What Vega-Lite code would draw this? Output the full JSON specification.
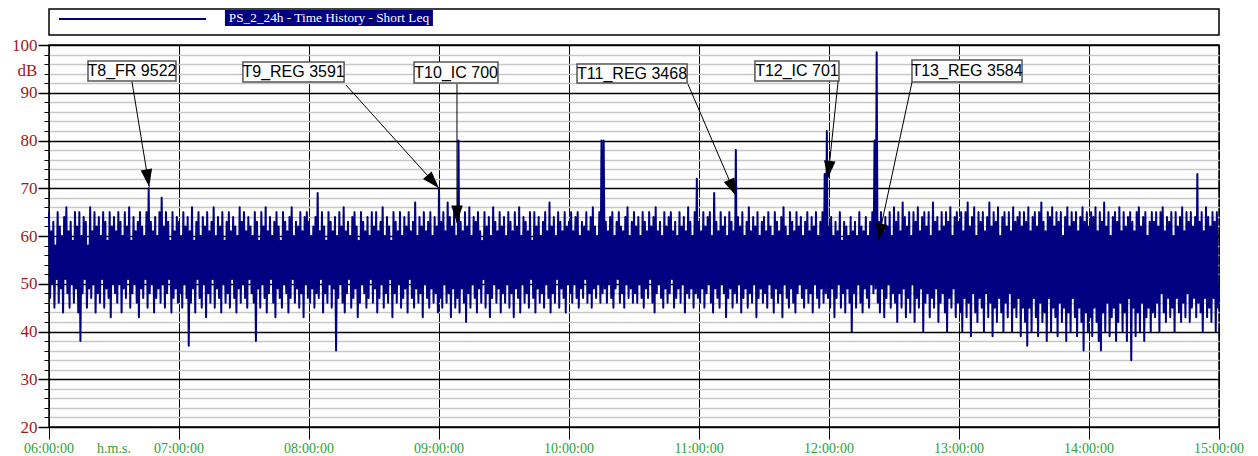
{
  "$schema": "https://vega.github.io/schema/vega-lite/v6.json",
  "background": "white",
  "padding": {"left": 10, "top": 8, "right": 10, "bottom": 0},
  "bounds": "flush",
  "spacing": 10,
  "config": {"view": {"stroke": "black", "strokeWidth": 1.5}, "axis": {"domain": false}},
  "datasets": {
    "leg": [{"label": "PS_2_24h - Time History - Short Leq", "x1": 9.2, "x2": 145, "ly": 16, "rx1": 162.4, "rx2": 354.4, "ry1": 9, "ry2": 25, "tx": 258.4, "ty": 17}],
    "xl": [
      {"t": 0, "lab": "06:00:00"}, {"t": 60, "lab": "h.m.s."}, {"t": 120, "lab": "07:00:00"}, {"t": 240, "lab": "08:00:00"},
      {"t": 360, "lab": "09:00:00"}, {"t": 480, "lab": "10:00:00"}, {"t": 600, "lab": "11:00:00"}, {"t": 720, "lab": "12:00:00"},
      {"t": 840, "lab": "13:00:00"}, {"t": 960, "lab": "14:00:00"}, {"t": 1080, "lab": "15:00:00"}
    ],
    "ann": [
      {"label": "T8_FR 9522", "bx1": 36.0, "bx2": 117.2, "by1": 96.65, "by2": 92.46, "lx": 76.6, "ly": 94.55, "sx": 76.6, "sv": 92.3, "tx": 92.5, "tv": 70.3},
      {"label": "T9_REG 3591", "bx1": 179.0, "bx2": 272.4, "by1": 96.44, "by2": 92.25, "lx": 225.8, "ly": 94.35, "sx": 274.2, "sv": 91.6, "tx": 360.0, "tv": 70.0},
      {"label": "T10_IC 700", "bx1": 337.0, "bx2": 414.4, "by1": 96.44, "by2": 92.04, "lx": 375.8, "ly": 94.24, "sx": 376.6, "sv": 91.8, "tx": 376.6, "tv": 62.7},
      {"label": "T11_REG 3468", "bx1": 487.4, "bx2": 589.0, "by1": 96.02, "by2": 92.04, "lx": 538.2, "ly": 94.03, "sx": 589.8, "sv": 91.8, "tx": 634.2, "tv": 68.4},
      {"label": "T12_IC 701", "bx1": 651.6, "bx2": 729.2, "by1": 96.65, "by2": 92.46, "lx": 690.4, "ly": 94.55, "sx": 728.4, "sv": 92.4, "tx": 719.0, "tv": 72.1},
      {"label": "T13_REG 3584", "bx1": 796.6, "bx2": 898.2, "by1": 96.86, "by2": 92.25, "lx": 847.4, "ly": 94.55, "sx": 796.6, "sv": 92.2, "tx": 765.2, "tv": 59.0}
    ],
    "ts": [
{"t":0,"v":65},{"t":1,"v":47},{"t":2,"v":61},{"t":3,"v":50},{"t":4,"v":63},{"t":5,"v":45},{"t":6,"v":58},{"t":7,"v":51},{"t":8,"v":65},{"t":9,"v":46},{"t":10,"v":62},{"t":11,"v":49},{"t":12,"v":60},{"t":13,"v":44},{"t":14,"v":64},{"t":15,"v":51},{"t":16,"v":66},{"t":17,"v":48},{"t":18,"v":61},{"t":19,"v":45},
{"t":20,"v":63},{"t":21,"v":50},{"t":22,"v":59},{"t":23,"v":46},{"t":24,"v":65},{"t":25,"v":49},{"t":26,"v":62},{"t":27,"v":44},{"t":28,"v":65},{"t":29,"v":38},{"t":30,"v":60},{"t":31,"v":48},{"t":32,"v":64},{"t":33,"v":51},{"t":34,"v":63},{"t":35,"v":45},{"t":36,"v":58},{"t":37,"v":49},{"t":38,"v":66},{"t":39,"v":47},
{"t":40,"v":61},{"t":41,"v":50},{"t":42,"v":65},{"t":43,"v":44},{"t":44,"v":62},{"t":45,"v":48},{"t":46,"v":64},{"t":47,"v":46},{"t":48,"v":60},{"t":49,"v":51},{"t":50,"v":65},{"t":51,"v":45},{"t":52,"v":63},{"t":53,"v":49},{"t":54,"v":59},{"t":55,"v":47},{"t":56,"v":65},{"t":57,"v":43},{"t":58,"v":62},{"t":59,"v":50},
{"t":60,"v":64},{"t":61,"v":48},{"t":62,"v":61},{"t":63,"v":46},{"t":64,"v":65},{"t":65,"v":50},{"t":66,"v":63},{"t":67,"v":44},{"t":68,"v":60},{"t":69,"v":49},{"t":70,"v":65},{"t":71,"v":47},{"t":72,"v":62},{"t":73,"v":51},{"t":74,"v":66},{"t":75,"v":45},{"t":76,"v":59},{"t":77,"v":48},{"t":78,"v":64},{"t":79,"v":50},
{"t":80,"v":61},{"t":81,"v":46},{"t":82,"v":63},{"t":83,"v":43},{"t":84,"v":65},{"t":85,"v":49},{"t":86,"v":62},{"t":87,"v":47},{"t":88,"v":60},{"t":89,"v":51},{"t":90,"v":65},{"t":91,"v":45},{"t":92,"v":70},{"t":93,"v":48},{"t":94,"v":63},{"t":95,"v":50},{"t":96,"v":61},{"t":97,"v":44},{"t":98,"v":64},{"t":99,"v":47},
{"t":100,"v":60},{"t":101,"v":49},{"t":102,"v":65},{"t":103,"v":46},{"t":104,"v":68},{"t":105,"v":50},{"t":106,"v":62},{"t":107,"v":45},{"t":108,"v":65},{"t":109,"v":48},{"t":110,"v":63},{"t":111,"v":51},{"t":112,"v":59},{"t":113,"v":44},{"t":114,"v":65},{"t":115,"v":47},{"t":116,"v":61},{"t":117,"v":49},{"t":118,"v":64},{"t":119,"v":46},
{"t":120,"v":63},{"t":121,"v":48},{"t":122,"v":60},{"t":123,"v":45},{"t":124,"v":65},{"t":125,"v":50},{"t":126,"v":62},{"t":127,"v":47},{"t":128,"v":64},{"t":129,"v":37},{"t":130,"v":61},{"t":131,"v":46},{"t":132,"v":66},{"t":133,"v":49},{"t":134,"v":59},{"t":135,"v":44},{"t":136,"v":63},{"t":137,"v":51},{"t":138,"v":65},{"t":139,"v":47},
{"t":140,"v":60},{"t":141,"v":45},{"t":142,"v":64},{"t":143,"v":50},{"t":144,"v":62},{"t":145,"v":43},{"t":146,"v":65},{"t":147,"v":48},{"t":148,"v":61},{"t":149,"v":46},{"t":150,"v":63},{"t":151,"v":51},{"t":152,"v":66},{"t":153,"v":45},{"t":154,"v":60},{"t":155,"v":49},{"t":156,"v":64},{"t":157,"v":47},{"t":158,"v":62},{"t":159,"v":44},
{"t":160,"v":65},{"t":161,"v":50},{"t":162,"v":59},{"t":163,"v":46},{"t":164,"v":63},{"t":165,"v":48},{"t":166,"v":65},{"t":167,"v":45},{"t":168,"v":61},{"t":169,"v":51},{"t":170,"v":64},{"t":171,"v":47},{"t":172,"v":62},{"t":173,"v":44},{"t":174,"v":60},{"t":175,"v":49},{"t":176,"v":66},{"t":177,"v":46},{"t":178,"v":63},{"t":179,"v":50},
{"t":180,"v":65},{"t":181,"v":47},{"t":182,"v":61},{"t":183,"v":45},{"t":184,"v":64},{"t":185,"v":51},{"t":186,"v":62},{"t":187,"v":48},{"t":188,"v":60},{"t":189,"v":46},{"t":190,"v":65},{"t":191,"v":38},{"t":192,"v":63},{"t":193,"v":49},{"t":194,"v":59},{"t":195,"v":45},{"t":196,"v":65},{"t":197,"v":50},{"t":198,"v":62},{"t":199,"v":47},
{"t":200,"v":66},{"t":201,"v":44},{"t":202,"v":61},{"t":203,"v":48},{"t":204,"v":64},{"t":205,"v":51},{"t":206,"v":60},{"t":207,"v":46},{"t":208,"v":63},{"t":209,"v":43},{"t":210,"v":65},{"t":211,"v":49},{"t":212,"v":62},{"t":213,"v":47},{"t":214,"v":59},{"t":215,"v":45},{"t":216,"v":65},{"t":217,"v":50},{"t":218,"v":63},{"t":219,"v":48},
{"t":220,"v":61},{"t":221,"v":44},{"t":222,"v":64},{"t":223,"v":47},{"t":224,"v":66},{"t":225,"v":51},{"t":226,"v":60},{"t":227,"v":46},{"t":228,"v":63},{"t":229,"v":49},{"t":230,"v":62},{"t":231,"v":45},{"t":232,"v":65},{"t":233,"v":48},{"t":234,"v":61},{"t":235,"v":43},{"t":236,"v":64},{"t":237,"v":50},{"t":238,"v":65},{"t":239,"v":47},
{"t":240,"v":63},{"t":241,"v":46},{"t":242,"v":60},{"t":243,"v":49},{"t":244,"v":62},{"t":245,"v":45},{"t":246,"v":64},{"t":247,"v":48},{"t":248,"v":69},{"t":249,"v":47},{"t":250,"v":61},{"t":251,"v":51},{"t":252,"v":65},{"t":253,"v":44},{"t":254,"v":62},{"t":255,"v":48},{"t":256,"v":59},{"t":257,"v":46},{"t":258,"v":65},{"t":259,"v":50},
{"t":260,"v":63},{"t":261,"v":45},{"t":262,"v":61},{"t":263,"v":49},{"t":264,"v":64},{"t":265,"v":36},{"t":266,"v":60},{"t":267,"v":47},{"t":268,"v":65},{"t":269,"v":50},{"t":270,"v":62},{"t":271,"v":46},{"t":272,"v":66},{"t":273,"v":44},{"t":274,"v":61},{"t":275,"v":48},{"t":276,"v":63},{"t":277,"v":51},{"t":278,"v":60},{"t":279,"v":45},
{"t":280,"v":64},{"t":281,"v":47},{"t":282,"v":65},{"t":283,"v":49},{"t":284,"v":62},{"t":285,"v":43},{"t":286,"v":59},{"t":287,"v":46},{"t":288,"v":65},{"t":289,"v":50},{"t":290,"v":63},{"t":291,"v":48},{"t":292,"v":61},{"t":293,"v":45},{"t":294,"v":64},{"t":295,"v":47},{"t":296,"v":60},{"t":297,"v":51},{"t":298,"v":65},{"t":299,"v":46},
{"t":300,"v":62},{"t":301,"v":49},{"t":302,"v":65},{"t":303,"v":44},{"t":304,"v":61},{"t":305,"v":47},{"t":306,"v":63},{"t":307,"v":50},{"t":308,"v":66},{"t":309,"v":45},{"t":310,"v":60},{"t":311,"v":48},{"t":312,"v":64},{"t":313,"v":46},{"t":314,"v":62},{"t":315,"v":51},{"t":316,"v":59},{"t":317,"v":43},{"t":318,"v":65},{"t":319,"v":48},
{"t":320,"v":63},{"t":321,"v":46},{"t":322,"v":61},{"t":323,"v":50},{"t":324,"v":65},{"t":325,"v":45},{"t":326,"v":60},{"t":327,"v":47},{"t":328,"v":64},{"t":329,"v":49},{"t":330,"v":62},{"t":331,"v":44},{"t":332,"v":65},{"t":333,"v":51},{"t":334,"v":61},{"t":335,"v":47},{"t":336,"v":63},{"t":337,"v":45},{"t":338,"v":67},{"t":339,"v":49},
{"t":340,"v":60},{"t":341,"v":46},{"t":342,"v":64},{"t":343,"v":48},{"t":344,"v":62},{"t":345,"v":43},{"t":346,"v":65},{"t":347,"v":50},{"t":348,"v":61},{"t":349,"v":47},{"t":350,"v":63},{"t":351,"v":45},{"t":352,"v":65},{"t":353,"v":49},{"t":354,"v":60},{"t":355,"v":46},{"t":356,"v":64},{"t":357,"v":48},{"t":358,"v":62},{"t":359,"v":44},
{"t":360,"v":70},{"t":361,"v":47},{"t":362,"v":63},{"t":363,"v":45},{"t":364,"v":65},{"t":365,"v":50},{"t":366,"v":61},{"t":367,"v":46},{"t":368,"v":67},{"t":369,"v":48},{"t":370,"v":64},{"t":371,"v":43},{"t":372,"v":62},{"t":373,"v":49},{"t":374,"v":65},{"t":375,"v":45},{"t":376,"v":60},{"t":377,"v":47},{"t":378,"v":80},{"t":379,"v":44},
{"t":380,"v":63},{"t":381,"v":49},{"t":382,"v":61},{"t":383,"v":46},{"t":384,"v":65},{"t":385,"v":42},{"t":386,"v":62},{"t":387,"v":48},{"t":388,"v":66},{"t":389,"v":45},{"t":390,"v":60},{"t":391,"v":50},{"t":392,"v":64},{"t":393,"v":47},{"t":394,"v":63},{"t":395,"v":44},{"t":396,"v":65},{"t":397,"v":49},{"t":398,"v":61},{"t":399,"v":46},
{"t":400,"v":59},{"t":401,"v":51},{"t":402,"v":65},{"t":403,"v":45},{"t":404,"v":62},{"t":405,"v":48},{"t":406,"v":64},{"t":407,"v":43},{"t":408,"v":60},{"t":409,"v":47},{"t":410,"v":66},{"t":411,"v":50},{"t":412,"v":63},{"t":413,"v":46},{"t":414,"v":61},{"t":415,"v":49},{"t":416,"v":65},{"t":417,"v":44},{"t":418,"v":62},{"t":419,"v":48},
{"t":420,"v":64},{"t":421,"v":46},{"t":422,"v":60},{"t":423,"v":50},{"t":424,"v":65},{"t":425,"v":45},{"t":426,"v":63},{"t":427,"v":48},{"t":428,"v":61},{"t":429,"v":43},{"t":430,"v":65},{"t":431,"v":49},{"t":432,"v":62},{"t":433,"v":47},{"t":434,"v":66},{"t":435,"v":44},{"t":436,"v":60},{"t":437,"v":50},{"t":438,"v":64},{"t":439,"v":46},
{"t":440,"v":63},{"t":441,"v":48},{"t":442,"v":61},{"t":443,"v":45},{"t":444,"v":65},{"t":445,"v":51},{"t":446,"v":59},{"t":447,"v":47},{"t":448,"v":65},{"t":449,"v":44},{"t":450,"v":62},{"t":451,"v":49},{"t":452,"v":64},{"t":453,"v":46},{"t":454,"v":60},{"t":455,"v":48},{"t":456,"v":63},{"t":457,"v":45},{"t":458,"v":65},{"t":459,"v":50},
{"t":460,"v":61},{"t":461,"v":47},{"t":462,"v":67},{"t":463,"v":44},{"t":464,"v":62},{"t":465,"v":48},{"t":466,"v":64},{"t":467,"v":46},{"t":468,"v":60},{"t":469,"v":51},{"t":470,"v":65},{"t":471,"v":45},{"t":472,"v":63},{"t":473,"v":49},{"t":474,"v":61},{"t":475,"v":47},{"t":476,"v":65},{"t":477,"v":44},{"t":478,"v":62},{"t":479,"v":50},
{"t":480,"v":63},{"t":481,"v":48},{"t":482,"v":65},{"t":483,"v":46},{"t":484,"v":61},{"t":485,"v":50},{"t":486,"v":64},{"t":487,"v":47},{"t":488,"v":65},{"t":489,"v":45},{"t":490,"v":60},{"t":491,"v":49},{"t":492,"v":63},{"t":493,"v":47},{"t":494,"v":62},{"t":495,"v":51},{"t":496,"v":65},{"t":497,"v":46},{"t":498,"v":61},{"t":499,"v":48},
{"t":500,"v":64},{"t":501,"v":45},{"t":502,"v":66},{"t":503,"v":49},{"t":504,"v":62},{"t":505,"v":47},{"t":506,"v":60},{"t":507,"v":50},{"t":508,"v":65},{"t":509,"v":46},{"t":510,"v":80},{"t":511,"v":48},{"t":512,"v":80},{"t":513,"v":49},{"t":514,"v":63},{"t":515,"v":46},{"t":516,"v":61},{"t":517,"v":50},{"t":518,"v":64},{"t":519,"v":47},
{"t":520,"v":65},{"t":521,"v":45},{"t":522,"v":60},{"t":523,"v":49},{"t":524,"v":63},{"t":525,"v":51},{"t":526,"v":65},{"t":527,"v":46},{"t":528,"v":62},{"t":529,"v":48},{"t":530,"v":61},{"t":531,"v":45},{"t":532,"v":64},{"t":533,"v":50},{"t":534,"v":66},{"t":535,"v":47},{"t":536,"v":60},{"t":537,"v":49},{"t":538,"v":63},{"t":539,"v":46},
{"t":540,"v":65},{"t":541,"v":48},{"t":542,"v":62},{"t":543,"v":46},{"t":544,"v":64},{"t":545,"v":50},{"t":546,"v":60},{"t":547,"v":47},{"t":548,"v":65},{"t":549,"v":45},{"t":550,"v":63},{"t":551,"v":49},{"t":552,"v":61},{"t":553,"v":47},{"t":554,"v":65},{"t":555,"v":51},{"t":556,"v":62},{"t":557,"v":46},{"t":558,"v":64},{"t":559,"v":44},
{"t":560,"v":66},{"t":561,"v":48},{"t":562,"v":61},{"t":563,"v":50},{"t":564,"v":63},{"t":565,"v":47},{"t":566,"v":60},{"t":567,"v":45},{"t":568,"v":65},{"t":569,"v":49},{"t":570,"v":62},{"t":571,"v":46},{"t":572,"v":64},{"t":573,"v":48},{"t":574,"v":65},{"t":575,"v":51},{"t":576,"v":61},{"t":577,"v":45},{"t":578,"v":63},{"t":579,"v":47},
{"t":580,"v":60},{"t":581,"v":49},{"t":582,"v":65},{"t":583,"v":46},{"t":584,"v":62},{"t":585,"v":50},{"t":586,"v":64},{"t":587,"v":44},{"t":588,"v":61},{"t":589,"v":48},{"t":590,"v":66},{"t":591,"v":47},{"t":592,"v":63},{"t":593,"v":49},{"t":594,"v":60},{"t":595,"v":45},{"t":596,"v":65},{"t":597,"v":48},{"t":598,"v":72},{"t":599,"v":47},
{"t":600,"v":63},{"t":601,"v":46},{"t":602,"v":61},{"t":603,"v":49},{"t":604,"v":65},{"t":605,"v":45},{"t":606,"v":62},{"t":607,"v":48},{"t":608,"v":64},{"t":609,"v":50},{"t":610,"v":65},{"t":611,"v":46},{"t":612,"v":60},{"t":613,"v":44},{"t":614,"v":69},{"t":615,"v":49},{"t":616,"v":63},{"t":617,"v":47},{"t":618,"v":61},{"t":619,"v":45},
{"t":620,"v":65},{"t":621,"v":50},{"t":622,"v":62},{"t":623,"v":48},{"t":624,"v":64},{"t":625,"v":43},{"t":626,"v":60},{"t":627,"v":47},{"t":628,"v":65},{"t":629,"v":49},{"t":630,"v":63},{"t":631,"v":45},{"t":632,"v":61},{"t":633,"v":48},{"t":634,"v":78},{"t":635,"v":46},{"t":636,"v":64},{"t":637,"v":50},{"t":638,"v":62},{"t":639,"v":44},
{"t":640,"v":65},{"t":641,"v":47},{"t":642,"v":60},{"t":643,"v":49},{"t":644,"v":63},{"t":645,"v":45},{"t":646,"v":66},{"t":647,"v":48},{"t":648,"v":61},{"t":649,"v":46},{"t":650,"v":64},{"t":651,"v":50},{"t":652,"v":62},{"t":653,"v":43},{"t":654,"v":65},{"t":655,"v":47},{"t":656,"v":60},{"t":657,"v":49},{"t":658,"v":63},{"t":659,"v":46},
{"t":660,"v":64},{"t":661,"v":48},{"t":662,"v":61},{"t":663,"v":45},{"t":664,"v":65},{"t":665,"v":50},{"t":666,"v":62},{"t":667,"v":47},{"t":668,"v":60},{"t":669,"v":44},{"t":670,"v":65},{"t":671,"v":49},{"t":672,"v":63},{"t":673,"v":46},{"t":674,"v":61},{"t":675,"v":48},{"t":676,"v":64},{"t":677,"v":43},{"t":678,"v":66},{"t":679,"v":50},
{"t":680,"v":62},{"t":681,"v":47},{"t":682,"v":60},{"t":683,"v":45},{"t":684,"v":65},{"t":685,"v":49},{"t":686,"v":63},{"t":687,"v":46},{"t":688,"v":61},{"t":689,"v":44},{"t":690,"v":65},{"t":691,"v":48},{"t":692,"v":62},{"t":693,"v":50},{"t":694,"v":64},{"t":695,"v":47},{"t":696,"v":60},{"t":697,"v":45},{"t":698,"v":63},{"t":699,"v":49},
{"t":700,"v":65},{"t":701,"v":46},{"t":702,"v":61},{"t":703,"v":48},{"t":704,"v":64},{"t":705,"v":44},{"t":706,"v":62},{"t":707,"v":50},{"t":708,"v":65},{"t":709,"v":47},{"t":710,"v":60},{"t":711,"v":45},{"t":712,"v":63},{"t":713,"v":49},{"t":714,"v":65},{"t":715,"v":46},{"t":716,"v":73},{"t":717,"v":48},{"t":718,"v":82},{"t":719,"v":47},
{"t":720,"v":62},{"t":721,"v":45},{"t":722,"v":64},{"t":723,"v":49},{"t":724,"v":60},{"t":725,"v":43},{"t":726,"v":63},{"t":727,"v":47},{"t":728,"v":61},{"t":729,"v":50},{"t":730,"v":65},{"t":731,"v":45},{"t":732,"v":59},{"t":733,"v":48},{"t":734,"v":63},{"t":735,"v":44},{"t":736,"v":62},{"t":737,"v":49},{"t":738,"v":60},{"t":739,"v":46},
{"t":740,"v":64},{"t":741,"v":40},{"t":742,"v":61},{"t":743,"v":48},{"t":744,"v":63},{"t":745,"v":45},{"t":746,"v":60},{"t":747,"v":50},{"t":748,"v":65},{"t":749,"v":46},{"t":750,"v":62},{"t":751,"v":44},{"t":752,"v":61},{"t":753,"v":49},{"t":754,"v":64},{"t":755,"v":47},{"t":756,"v":60},{"t":757,"v":45},{"t":758,"v":63},{"t":759,"v":50},
{"t":760,"v":65},{"t":761,"v":48},{"t":762,"v":80},{"t":763,"v":49},{"t":764,"v":98.5},{"t":765,"v":46},{"t":766,"v":63},{"t":767,"v":44},{"t":768,"v":65},{"t":769,"v":49},{"t":770,"v":61},{"t":771,"v":43},{"t":772,"v":64},{"t":773,"v":47},{"t":774,"v":62},{"t":775,"v":50},{"t":776,"v":65},{"t":777,"v":45},{"t":778,"v":60},{"t":779,"v":48},
{"t":780,"v":66},{"t":781,"v":46},{"t":782,"v":63},{"t":783,"v":42},{"t":784,"v":65},{"t":785,"v":48},{"t":786,"v":61},{"t":787,"v":45},{"t":788,"v":67},{"t":789,"v":49},{"t":790,"v":64},{"t":791,"v":43},{"t":792,"v":62},{"t":793,"v":47},{"t":794,"v":65},{"t":795,"v":44},{"t":796,"v":60},{"t":797,"v":50},{"t":798,"v":65},{"t":799,"v":42},
{"t":800,"v":63},{"t":801,"v":47},{"t":802,"v":66},{"t":803,"v":45},{"t":804,"v":61},{"t":805,"v":49},{"t":806,"v":64},{"t":807,"v":40},{"t":808,"v":65},{"t":809,"v":46},{"t":810,"v":62},{"t":811,"v":48},{"t":812,"v":65},{"t":813,"v":43},{"t":814,"v":60},{"t":815,"v":47},{"t":816,"v":67},{"t":817,"v":45},{"t":818,"v":63},{"t":819,"v":49},
{"t":820,"v":64},{"t":821,"v":42},{"t":822,"v":61},{"t":823,"v":46},{"t":824,"v":65},{"t":825,"v":48},{"t":826,"v":62},{"t":827,"v":44},{"t":828,"v":65},{"t":829,"v":40},{"t":830,"v":63},{"t":831,"v":47},{"t":832,"v":66},{"t":833,"v":45},{"t":834,"v":60},{"t":835,"v":49},{"t":836,"v":64},{"t":837,"v":43},{"t":838,"v":65},{"t":839,"v":46},
{"t":840,"v":63},{"t":841,"v":44},{"t":842,"v":65},{"t":843,"v":40},{"t":844,"v":61},{"t":845,"v":47},{"t":846,"v":65},{"t":847,"v":43},{"t":848,"v":67},{"t":849,"v":46},{"t":850,"v":62},{"t":851,"v":39},{"t":852,"v":64},{"t":853,"v":48},{"t":854,"v":66},{"t":855,"v":44},{"t":856,"v":60},{"t":857,"v":42},{"t":858,"v":65},{"t":859,"v":47},
{"t":860,"v":63},{"t":861,"v":45},{"t":862,"v":65},{"t":863,"v":40},{"t":864,"v":61},{"t":865,"v":48},{"t":866,"v":64},{"t":867,"v":43},{"t":868,"v":67},{"t":869,"v":46},{"t":870,"v":62},{"t":871,"v":39},{"t":872,"v":65},{"t":873,"v":45},{"t":874,"v":63},{"t":875,"v":42},{"t":876,"v":66},{"t":877,"v":47},{"t":878,"v":60},{"t":879,"v":44},
{"t":880,"v":64},{"t":881,"v":40},{"t":882,"v":65},{"t":883,"v":46},{"t":884,"v":62},{"t":885,"v":43},{"t":886,"v":65},{"t":887,"v":48},{"t":888,"v":61},{"t":889,"v":40},{"t":890,"v":66},{"t":891,"v":45},{"t":892,"v":63},{"t":893,"v":43},{"t":894,"v":64},{"t":895,"v":47},{"t":896,"v":65},{"t":897,"v":39},{"t":898,"v":62},{"t":899,"v":45},
{"t":900,"v":65},{"t":901,"v":42},{"t":902,"v":63},{"t":903,"v":37},{"t":904,"v":66},{"t":905,"v":45},{"t":906,"v":61},{"t":907,"v":40},{"t":908,"v":64},{"t":909,"v":47},{"t":910,"v":65},{"t":911,"v":43},{"t":912,"v":62},{"t":913,"v":39},{"t":914,"v":65},{"t":915,"v":46},{"t":916,"v":67},{"t":917,"v":42},{"t":918,"v":63},{"t":919,"v":44},
{"t":920,"v":61},{"t":921,"v":38},{"t":922,"v":65},{"t":923,"v":47},{"t":924,"v":64},{"t":925,"v":40},{"t":926,"v":66},{"t":927,"v":45},{"t":928,"v":62},{"t":929,"v":43},{"t":930,"v":65},{"t":931,"v":39},{"t":932,"v":63},{"t":933,"v":46},{"t":934,"v":65},{"t":935,"v":42},{"t":936,"v":60},{"t":937,"v":45},{"t":938,"v":64},{"t":939,"v":38},
{"t":940,"v":66},{"t":941,"v":44},{"t":942,"v":62},{"t":943,"v":40},{"t":944,"v":65},{"t":945,"v":47},{"t":946,"v":63},{"t":947,"v":43},{"t":948,"v":65},{"t":949,"v":39},{"t":950,"v":61},{"t":951,"v":45},{"t":952,"v":64},{"t":953,"v":42},{"t":954,"v":66},{"t":955,"v":36},{"t":956,"v":63},{"t":957,"v":44},{"t":958,"v":65},{"t":959,"v":40},
{"t":960,"v":62},{"t":961,"v":43},{"t":962,"v":65},{"t":963,"v":39},{"t":964,"v":64},{"t":965,"v":45},{"t":966,"v":66},{"t":967,"v":42},{"t":968,"v":61},{"t":969,"v":38},{"t":970,"v":65},{"t":971,"v":36},{"t":972,"v":63},{"t":973,"v":44},{"t":974,"v":67},{"t":975,"v":40},{"t":976,"v":62},{"t":977,"v":46},{"t":978,"v":65},{"t":979,"v":39},
{"t":980,"v":60},{"t":981,"v":43},{"t":982,"v":64},{"t":983,"v":45},{"t":984,"v":65},{"t":985,"v":38},{"t":986,"v":63},{"t":987,"v":42},{"t":988,"v":66},{"t":989,"v":46},{"t":990,"v":61},{"t":991,"v":40},{"t":992,"v":65},{"t":993,"v":44},{"t":994,"v":62},{"t":995,"v":38},{"t":996,"v":64},{"t":997,"v":47},{"t":998,"v":65},{"t":999,"v":34},
{"t":1000,"v":63},{"t":1001,"v":45},{"t":1002,"v":61},{"t":1003,"v":39},{"t":1004,"v":65},{"t":1005,"v":44},{"t":1006,"v":66},{"t":1007,"v":40},{"t":1008,"v":62},{"t":1009,"v":46},{"t":1010,"v":64},{"t":1011,"v":38},{"t":1012,"v":65},{"t":1013,"v":43},{"t":1014,"v":60},{"t":1015,"v":45},{"t":1016,"v":63},{"t":1017,"v":40},{"t":1018,"v":65},{"t":1019,"v":44},
{"t":1020,"v":63},{"t":1021,"v":43},{"t":1022,"v":65},{"t":1023,"v":46},{"t":1024,"v":62},{"t":1025,"v":40},{"t":1026,"v":65},{"t":1027,"v":48},{"t":1028,"v":66},{"t":1029,"v":44},{"t":1030,"v":61},{"t":1031,"v":42},{"t":1032,"v":64},{"t":1033,"v":47},{"t":1034,"v":63},{"t":1035,"v":43},{"t":1036,"v":65},{"t":1037,"v":45},{"t":1038,"v":60},{"t":1039,"v":40},
{"t":1040,"v":65},{"t":1041,"v":47},{"t":1042,"v":62},{"t":1043,"v":44},{"t":1044,"v":64},{"t":1045,"v":42},{"t":1046,"v":66},{"t":1047,"v":46},{"t":1048,"v":61},{"t":1049,"v":43},{"t":1050,"v":65},{"t":1051,"v":48},{"t":1052,"v":63},{"t":1053,"v":42},{"t":1054,"v":65},{"t":1055,"v":45},{"t":1056,"v":62},{"t":1057,"v":47},{"t":1058,"v":64},{"t":1059,"v":43},
{"t":1060,"v":73},{"t":1061,"v":46},{"t":1062,"v":63},{"t":1063,"v":44},{"t":1064,"v":65},{"t":1065,"v":40},{"t":1066,"v":61},{"t":1067,"v":47},{"t":1068,"v":66},{"t":1069,"v":43},{"t":1070,"v":64},{"t":1071,"v":45},{"t":1072,"v":62},{"t":1073,"v":42},{"t":1074,"v":65},{"t":1075,"v":47},{"t":1076,"v":63},{"t":1077,"v":40},{"t":1078,"v":65},{"t":1079,"v":45},
{"t":1080,"v":50}
    ]
  },
  "vconcat": [
    {
      "width": 1170,
      "height": 26,
      "data": {"name": "leg"},
      "layer": [
        {
          "mark": {"type": "rule", "color": "#000080", "strokeWidth": 2},
          "encoding": {
            "x": {"field": "x1", "type": "quantitative", "scale": {"domain": [0, 1080], "nice": false}, "axis": null},
            "x2": {"field": "x2"},
            "y": {"field": "ly", "type": "quantitative", "scale": {"domain": [0, 26], "nice": false}, "axis": null}
          }
        },
        {
          "mark": {"type": "rect", "color": "#000080"},
          "encoding": {
            "x": {"field": "rx1", "type": "quantitative", "scale": {"domain": [0, 1080], "nice": false}, "axis": null},
            "x2": {"field": "rx2"},
            "y": {"field": "ry1", "type": "quantitative", "scale": {"domain": [0, 26], "nice": false}, "axis": null},
            "y2": {"field": "ry2"}
          }
        },
        {
          "mark": {"type": "text", "color": "white", "font": "Liberation Serif", "fontSize": 13.3, "align": "center", "baseline": "middle"},
          "encoding": {
            "x": {"field": "tx", "type": "quantitative", "scale": {"domain": [0, 1080], "nice": false}, "axis": null},
            "y": {"field": "ty", "type": "quantitative", "scale": {"domain": [0, 26], "nice": false}, "axis": null},
            "text": {"field": "label"}
          }
        }
      ]
    },
    {
      "width": 1170,
      "height": 382,
      "resolve": {"axis": {"x": "independent", "y": "independent"}},
      "layer": [
        {
          "data": {"name": "ann"},
          "mark": {"type": "rect", "fill": "white", "stroke": "#555555", "strokeWidth": 1.5},
          "encoding": {
            "x": {"field": "bx1", "type": "quantitative", "scale": {"domain": [0, 1080], "nice": false},
              "axis": {"orient": "bottom", "values": [0,120,240,360,480,600,720,840,960,1080], "grid": true, "gridColor": "black", "gridWidth": 1,
                "ticks": true, "tickSize": 12, "tickColor": "black", "tickWidth": 1,
                "labels": false, "title": null, "domain": false}},
            "x2": {"field": "bx2"},
            "y": {"field": "by1", "type": "quantitative", "scale": {"domain": [20, 100], "nice": false},
              "axis": {"orient": "left", "values": [22,24,26,28,32,34,36,38,42,44,46,48,52,54,56,58,62,64,66,68,72,74,76,78,82,84,86,88,92,94,96,98],
                "grid": true, "gridColor": "#C8C8C8", "gridWidth": 1.5, "ticks": true, "tickSize": 5, "tickColor": "black", "tickWidth": 1,
                "labels": false, "title": null, "domain": false}},
            "y2": {"field": "by2"}
          }
        },
        {
          "data": {"name": "ts"},
          "mark": {"type": "line", "color": "#000080", "strokeWidth": 2, "strokeJoin": "round"},
          "encoding": {
            "x": {"field": "t", "type": "quantitative", "scale": {"domain": [0, 1080], "nice": false}, "axis": null},
            "y": {"field": "v", "type": "quantitative", "scale": {"domain": [20, 100], "nice": false},
              "axis": {"orient": "left", "values": [20,30,40,50,60,70,80,90,100], "grid": true, "gridColor": "black", "gridWidth": 1.6,
                "tickSize": 11, "tickColor": "black", "tickWidth": 1.5,
                "labelFont": "Liberation Serif", "labelFontSize": 17, "labelColor": "#9E1A1A", "labelPadding": 1,
                "labelFlush": false, "labelOverlap": false,
                "title": "dB", "titleAngle": 0, "titleX": -22, "titleY": 25, "titleAlign": "center", "titleBaseline": "middle",
                "titleFont": "Liberation Serif", "titleFontSize": 17, "titleFontWeight": "normal", "titleColor": "#9E1A1A"}}
          }
        },
        {
          "data": {"name": "ann"},
          "mark": {"type": "text", "font": "Liberation Sans", "fontSize": 16, "color": "black", "align": "center", "baseline": "middle"},
          "encoding": {
            "x": {"field": "lx", "type": "quantitative", "scale": {"domain": [0, 1080], "nice": false}, "axis": null},
            "y": {"field": "ly", "type": "quantitative", "scale": {"domain": [20, 100], "nice": false}, "axis": null},
            "text": {"field": "label"}
          }
        },
        {
          "data": {"name": "ann"},
          "mark": {"type": "rule", "color": "black", "strokeWidth": 1},
          "encoding": {
            "x": {"field": "sx", "type": "quantitative", "scale": {"domain": [0, 1080], "nice": false}, "axis": null},
            "x2": {"field": "tx"},
            "y": {"field": "sv", "type": "quantitative", "scale": {"domain": [20, 100], "nice": false}, "axis": null},
            "y2": {"field": "tv"}
          }
        },
        {
          "data": {"name": "ann"},
          "transform": [
            {"calculate": "atan2((datum.tx - datum.sx) * 1.08333, -(datum.sv - datum.tv) * 4.775) * 180 / PI", "as": "ang"}
          ],
          "mark": {"type": "point", "shape": "M0,0L-0.33,1L0.33,1Z", "filled": true, "color": "black", "opacity": 1, "size": 1225, "strokeWidth": 0},
          "encoding": {
            "x": {"field": "tx", "type": "quantitative", "scale": {"domain": [0, 1080], "nice": false}, "axis": null},
            "y": {"field": "tv", "type": "quantitative", "scale": {"domain": [20, 100], "nice": false}, "axis": null},
            "angle": {"field": "ang", "type": "quantitative", "scale": null}
          }
        },
        {
          "data": {"name": "xl"},
          "mark": {"type": "text", "font": "Liberation Serif", "fontSize": 14, "color": "#2F9F2F", "align": "center", "baseline": "top"},
          "encoding": {
            "x": {"field": "t", "type": "quantitative", "scale": {"domain": [0, 1080], "nice": false}, "axis": null},
            "y": {"datum": 16.86, "type": "quantitative", "scale": {"domain": [20, 100], "nice": false}, "axis": null},
            "text": {"field": "lab"}
          }
        }
      ]
    }
  ]
}
